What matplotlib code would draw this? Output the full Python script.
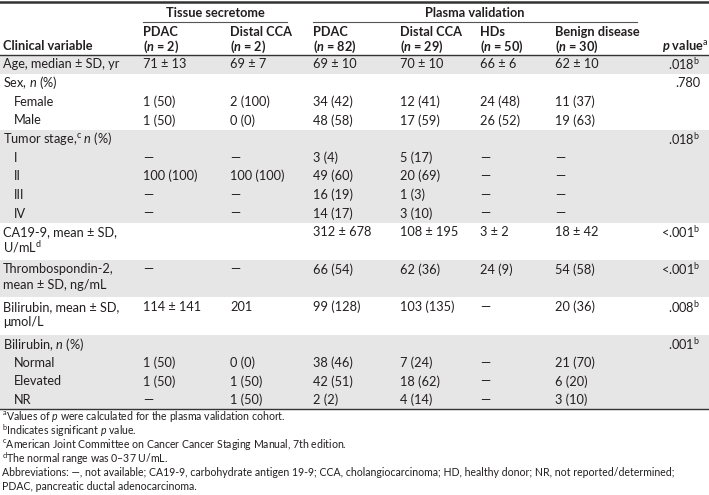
import matplotlib
matplotlib.use("Agg")
import matplotlib.pyplot as plt

plt.rcParams['font.family'] = ['Lato', 'DejaVu Sans']
plt.rcParams['mathtext.fontset'] = 'custom'
plt.rcParams['mathtext.rm'] = 'Lato'
plt.rcParams['mathtext.it'] = 'Lato:italic'
plt.rcParams['mathtext.bf'] = 'Lato:bold'
plt.rcParams['mathtext.bfit'] = 'Lato:bold:italic'

# ---- table data ----
group_titles = ["Tissue secretome", "Plasma validation"]
col_headers = ["PDAC\n($\\mathbfit{n}$ = 2)", "Distal CCA\n($\\mathbfit{n}$ = 2)",
               "PDAC\n($\\mathbfit{n}$ = 82)", "Distal CCA\n($\\mathbfit{n}$ = 29)",
               "HDs\n($\\mathbfit{n}$ = 50)", "Benign disease\n($\\mathbfit{n}$ = 30)"]

row_labels = ["Age, median ± SD, yr", "Sex, $\\mathit{n}$ (%)", "Female", "Male",
              "Tumor stage,$^{\\mathrm{c}}$ $\\mathit{n}$ (%)", "I", "II", "III", "IV",
              "CA19-9, mean ± SD,\nU/mL$^{\\mathrm{d}}$",
              "Thrombospondin-2,\nmean ± SD, ng/mL",
              "Bilirubin, mean ± SD,\nμmol/L",
              "Bilirubin, $\\mathit{n}$ (%)", "Normal", "Elevated", "NR"]
sub_rows = ["Female", "Male", "I", "II", "III", "IV", "Normal", "Elevated", "NR"]
group_sizes = [1, 3, 5, 1, 1, 1, 4]

tissue_pdac = ["71 ± 13", "", "1 (50)", "1 (50)", "", "—", "100 (100)", "—", "—",
               "", "—", "114 ± 141", "", "1 (50)", "1 (50)", "—"]
tissue_cca = ["69 ± 7", "", "2 (100)", "0 (0)", "", "—", "100 (100)", "—", "—",
              "", "—", "201", "", "0 (0)", "1 (50)", "1 (50)"]
plasma_pdac = ["69 ± 10", "", "34 (42)", "48 (58)", "", "3 (4)", "49 (60)", "16 (19)", "14 (17)",
               "312 ± 678", "66 (54)", "99 (128)", "", "38 (46)", "42 (51)", "2 (2)"]
plasma_cca = ["70 ± 10", "", "12 (41)", "17 (59)", "", "5 (17)", "20 (69)", "1 (3)", "3 (10)",
              "108 ± 195", "62 (36)", "103 (135)", "", "7 (24)", "18 (62)", "4 (14)"]
plasma_hd = ["66 ± 6", "", "24 (48)", "26 (52)", "", "—", "—", "—", "—",
             "3 ± 2", "24 (9)", "—", "", "—", "—", "—"]
plasma_benign = ["62 ± 10", "", "11 (37)", "19 (63)", "", "—", "—", "—", "—",
                 "18 ± 42", "54 (58)", "20 (36)", "", "21 (70)", "6 (20)", "3 (10)"]
p_values = [".018$^{\\mathrm{b}}$", ".780", "", "", ".018$^{\\mathrm{b}}$", "", "", "", "",
            "<.001$^{\\mathrm{b}}$", "<.001$^{\\mathrm{b}}$", ".008$^{\\mathrm{b}}$",
            ".001$^{\\mathrm{b}}$", "", "", ""]

footnotes = ["$^{\\mathrm{a}}$Values of $\\mathit{p}$ were calculated for the plasma validation cohort.",
             "$^{\\mathrm{b}}$Indicates significant $\\mathit{p}$ value.",
             "$^{\\mathrm{c}}$American Joint Committee on Cancer Cancer Staging Manual, 7th edition.",
             "$^{\\mathrm{d}}$The normal range was 0–37 U/mL.",
             "Abbreviations: —, not available; CA19-9, carbohydrate antigen 19-9; CCA, cholangiocarcinoma; HD, healthy donor; NR, not reported/determined;",
             "PDAC, pancreatic ductal adenocarcinoma."]

columns = [tissue_pdac, tissue_cca, plasma_pdac, plasma_cca, plasma_hd, plasma_benign]

# ---- layout (pixels) ----
W, H = 709, 495
fig = plt.figure(figsize=(W / 100, H / 100), dpi=100)
ax = fig.add_axes([0, 0, 1, 1])
ax.set_xlim(0, W)
ax.set_ylim(H, 0)
ax.axis('off')

txt = '#231f20'
shade = '#e6e6e6'
fs = 9.2
col_x = [143, 230, 313, 400, 480, 555]
p_x = 700
row_h = 18.65
line_h = 15.2
y0 = 55

ax.plot([0, W], [1.5, 1.5], color='#333333', lw=1.8)
ax.text(215, 13, group_titles[0], ha='center', va='center', fontsize=fs, fontweight='bold', color=txt)
ax.text(475, 13, group_titles[1], ha='center', va='center', fontsize=fs, fontweight='bold', color=txt)
ax.plot([143, 287], [22, 22], color='#555555', lw=0.8)
ax.plot([313, 637], [22, 22], color='#555555', lw=0.8)
for x, h in zip(col_x, col_headers):
    for i, part in enumerate(h.split('\n')):
        ax.text(x, 32 + i * 14.5, part, ha='left', va='center', fontsize=fs, fontweight='bold', color=txt)
ax.text(3, 46.5, "Clinical variable", ha='left', va='center', fontsize=fs, fontweight='bold', color=txt)
ax.text(p_x + 8, 46.5, "$\\mathbfit{p}$ value$^{\\mathrm{a}}$", ha='right', va='center',
        fontsize=fs, fontweight='bold', color=txt)

# row tops
heights = [row_h * 2 if '\n' in lab else row_h for lab in row_labels]
tops = [y0]
for h in heights[:-1]:
    tops.append(tops[-1] + h)

# shading by group
k = 0
for g, n in enumerate(group_sizes):
    if g % 2 == 0:
        top = tops[k]
        bottom = tops[k + n - 1] + heights[k + n - 1]
        ax.add_patch(plt.Rectangle((0, top), W, bottom - top, color=shade, lw=0))
    k += n

for i, lab in enumerate(row_labels):
    yc = tops[i] + row_h / 2
    indent = 14 if lab in sub_rows else 3
    for j, part in enumerate(lab.split('\n')):
        ax.text(indent, yc + j * line_h, part, ha='left', va='center', fontsize=fs, color=txt)
    for x, col in zip(col_x, columns):
        if col[i]:
            ax.text(x, yc, col[i], ha='left', va='center', fontsize=fs, color=txt)
    if p_values[i]:
        ax.text(p_x, yc, p_values[i], ha='right', va='center', fontsize=fs, color=txt)

ax.plot([0, W], [y0, y0], color='#333333', lw=1.0)
bottom_y = tops[-1] + heights[-1]
ax.plot([0, W], [bottom_y, bottom_y], color='#333333', lw=1.0)

for i, f in enumerate(footnotes):
    ax.text(2, bottom_y + 7.5 + i * 14, f, ha='left', va='center', fontsize=7.6, color=txt)

fig.savefig('out.png', dpi=100)
